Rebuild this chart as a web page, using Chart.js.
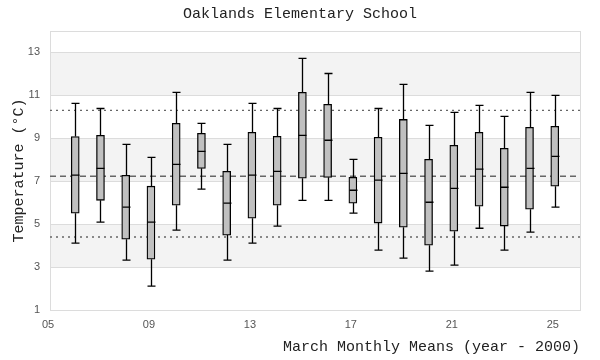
<!DOCTYPE html>
<html>
<head>
<meta charset="utf-8">
<script src="https://cdn.jsdelivr.net/npm/chart.js@4"></script>
<style>
  html, body { margin: 0; padding: 0; background: #fff; }
  #wrap { width: 600px; height: 360px; }
</style>
</head>
<body>
<div id="wrap"><canvas id="chartBox"></canvas></div>
<script>
// --- DATA ---
const years = [6, 7, 8, 9, 10, 11, 12, 13, 14, 15, 16, 17, 18, 19, 20, 21, 22, 23, 24, 25];
const whiskerLow  = [4.12, 5.09, 3.32, 2.11, 4.72, 6.63, 3.32, 4.12, 4.91, 6.11, 6.11, 5.51, 3.79, 3.42, 2.81, 3.09, 4.81, 3.79, 4.63, 5.79];
const quart1      = [5.51, 6.11, 4.30, 3.37, 5.88, 7.60, 4.49, 5.28, 5.88, 7.14, 7.18, 5.98, 5.05, 4.86, 4.02, 4.67, 5.84, 4.91, 5.70, 6.77];
const medians     = [7.28, 7.60, 5.79, 5.09, 7.79, 8.39, 5.98, 7.28, 7.46, 9.14, 8.91, 6.58, 7.05, 7.37, 6.02, 6.67, 7.56, 6.72, 7.60, 8.16];
const quart3      = [9.08, 9.14, 7.28, 6.77, 9.70, 9.23, 7.46, 9.28, 9.09, 11.14, 10.58, 7.18, 9.05, 9.88, 8.02, 8.67, 9.28, 8.53, 9.51, 9.56];
const whiskerHigh = [10.63, 10.39, 8.72, 8.11, 11.14, 9.70, 8.72, 10.63, 10.39, 12.72, 12.02, 8.02, 10.39, 11.51, 9.60, 10.21, 10.53, 10.02, 11.14, 11.00];

const meanLine = 7.23;
const upperLine = 10.30;
const lowerLine = 4.40;

const xTicks = [5, 9, 13, 17, 21, 25];
const yTicks = [1, 3, 5, 7, 9, 11, 13];
const bands = [[3, 5], [7, 9], [11, 13]];
const xRange = [5, 26];
const yRange = [1, 14];

const monoFont = "'Liberation Mono', 'DejaVu Sans Mono', monospace";
const tickFont = { family: "'Liberation Sans', 'DejaVu Sans', sans-serif", size: 11 };

// --- PLUGINS ---
// shaded bands behind the grid + frame round the plot area
const bandPlugin = {
    id: 'bands',
    beforeDraw(chart) {
        const { ctx, chartArea: a, scales: { y } } = chart;
        ctx.save();
        ctx.fillStyle = '#f3f3f3';
        bands.forEach(([lo, hi]) => {
            const top = y.getPixelForValue(hi);
            const bot = y.getPixelForValue(lo);
            ctx.fillRect(a.left, top, a.right - a.left, bot - top);
        });
        ctx.restore();
    },
    beforeDatasetsDraw(chart) {
        const { ctx, chartArea: a } = chart;
        ctx.save();
        ctx.strokeStyle = '#dcdcdc';
        ctx.lineWidth = 1;
        ctx.strokeRect(a.left + 0.5, a.top + 0.5, a.right - a.left, a.bottom - a.top);
        ctx.restore();
    }
};

// whiskers, caps and median lines
const whiskerPlugin = {
    id: 'whiskers',
    afterDatasetsDraw(chart) {
        const { ctx, scales: { x, y } } = chart;
        const half = 4;
        ctx.save();
        ctx.strokeStyle = '#000';
        ctx.lineWidth = 1.3;
        years.forEach((yr, i) => {
            const px = Math.round(x.getPixelForValue(yr)) + 0.5;
            const yHi = y.getPixelForValue(whiskerHigh[i]);
            const yQ3 = y.getPixelForValue(quart3[i]);
            const yQ1 = y.getPixelForValue(quart1[i]);
            const yLo = y.getPixelForValue(whiskerLow[i]);
            const yMed = y.getPixelForValue(medians[i]);
            ctx.beginPath();
            ctx.moveTo(px, yHi); ctx.lineTo(px, yQ3);
            ctx.moveTo(px, yQ1); ctx.lineTo(px, yLo);
            ctx.moveTo(px - half, yHi); ctx.lineTo(px + half, yHi);
            ctx.moveTo(px - half, yLo); ctx.lineTo(px + half, yLo);
            ctx.moveTo(px - half, yMed); ctx.lineTo(px + half, yMed);
            ctx.stroke();
        });
        ctx.restore();
    }
};

function flatLine(v) {
    return [{ x: xRange[0], y: v }, { x: xRange[1], y: v }];
}

const ctxBox = document.getElementById('chartBox').getContext('2d');
new Chart(ctxBox, {
    type: 'bar',
    data: {
        datasets: [
            {
                type: 'bar',
                label: 'IQR',
                data: years.map((yr, i) => ({ x: yr, y: [quart1[i], quart3[i]] })),
                backgroundColor: '#c0c0c0',
                borderColor: '#000',
                borderWidth: 1.3,
                borderSkipped: false,
                barThickness: 8,
                order: 1
            },
            {
                type: 'line',
                label: 'mean',
                data: flatLine(meanLine),
                borderColor: '#666',
                borderWidth: 1.4,
                borderDash: [6, 4],
                pointRadius: 0,
                order: 2
            },
            {
                type: 'line',
                label: 'upper',
                data: flatLine(upperLine),
                borderColor: '#666',
                borderWidth: 1.4,
                borderDash: [2, 4],
                pointRadius: 0,
                order: 2
            },
            {
                type: 'line',
                label: 'lower',
                data: flatLine(lowerLine),
                borderColor: '#666',
                borderWidth: 1.4,
                borderDash: [2, 4],
                pointRadius: 0,
                order: 2
            }
        ]
    },
    options: {
        responsive: true,
        maintainAspectRatio: false,
        animation: false,
        layout: { padding: 0 },
        plugins: {
            legend: { display: false },
            tooltip: { enabled: false },
            title: {
                display: true,
                text: 'Oaklands Elementary School',
                color: '#222',
                font: { family: monoFont, size: 15, weight: 'normal' },
                padding: { top: 5, bottom: 8 }
            }
        },
        scales: {
            x: {
                type: 'linear',
                min: xRange[0],
                max: xRange[1],
                offset: false,
                afterBuildTicks: s => { s.ticks = xTicks.map(v => ({ value: v })); },
                afterFit: s => { s.height = 50; },
                grid: { display: false, drawTicks: false },
                border: { display: false },
                ticks: {
                    color: '#555',
                    font: tickFont,
                    padding: 8,
                    labelOffset: -2,
                    maxRotation: 0,
                    autoSkip: false,
                    callback: v => String(v).padStart(2, '0')
                },
                title: {
                    display: true,
                    text: 'March Monthly Means (year - 2000)',
                    align: 'end',
                    color: '#222',
                    font: { family: monoFont, size: 15, weight: 'normal' },
                    padding: { top: 0, bottom: 4 }
                }
            },
            y: {
                min: yRange[0],
                max: yRange[1],
                afterBuildTicks: s => { s.ticks = yTicks.map(v => ({ value: v })); },
                afterFit: s => { s.width = 50; },
                grid: { color: '#dcdcdc', drawTicks: false },
                border: { display: false },
                ticks: { color: '#555', font: tickFont, padding: 10 },
                title: {
                    display: true,
                    text: 'Temperature (°C)',
                    color: '#222',
                    font: { family: monoFont, size: 15, weight: 'normal' },
                    padding: { top: 10, bottom: 0 }
                }
            },
            // empty right-hand axis, only keeps a 20px margin so the title stays centred on the canvas
            yRight: {
                position: 'right',
                min: yRange[0],
                max: yRange[1],
                afterFit: s => { s.width = 20; },
                grid: { display: false, drawTicks: false },
                border: { display: false },
                ticks: { display: false }
            }
        }
    },
    plugins: [bandPlugin, whiskerPlugin]
});
</script>
</body>
</html>
